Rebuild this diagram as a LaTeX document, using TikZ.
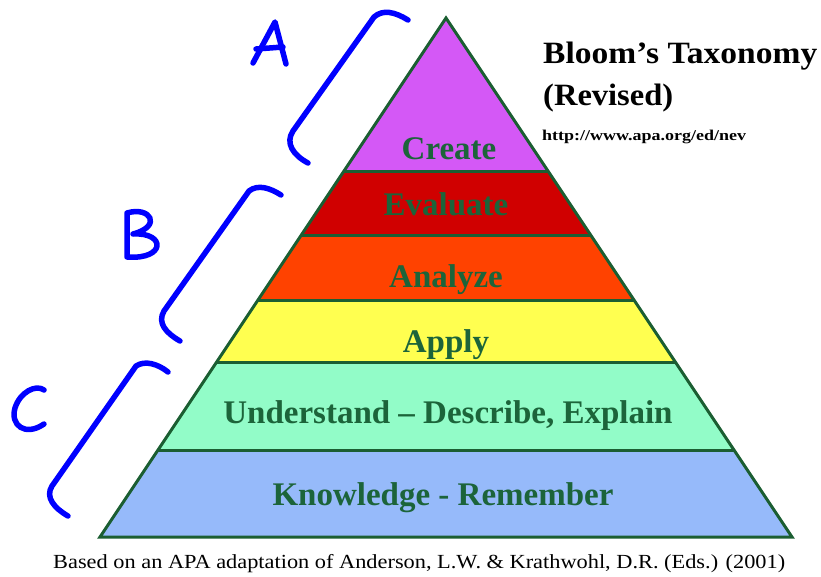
\documentclass[tikz,border=0pt]{standalone}
\usepackage{fontspec}
\usepackage{graphicx}
\setmainfont{Liberation Serif}
\usetikzlibrary{calc}
\definecolor{edgegreen}{RGB}{27,94,50}
\definecolor{txtgreen}{RGB}{28,100,58}
\definecolor{cCreate}{RGB}{212,88,246}
\definecolor{cEval}{RGB}{208,0,0}
\definecolor{cAnal}{RGB}{255,66,0}
\definecolor{cApply}{RGB}{255,255,80}
\definecolor{cUnder}{RGB}{146,252,200}
\definecolor{cKnow}{RGB}{150,186,250}
\definecolor{penblue}{RGB}{0,0,255}
\tikzset{
  edge/.style={draw=edgegreen, line width=3pt, line join=miter},
  lbl/.style={anchor=base, inner sep=0pt, text=txtgreen, font=\bfseries\fontsize{33}{33}\selectfont},
  pen/.style={draw=penblue, line width=5.5pt, line cap=round, line join=round},
}
\begin{document}
\begin{tikzpicture}[x=1pt,y=-1pt]
\useasboundingbox (0,0) rectangle (821,576);
\fill[white] (0,0) rectangle (821,576);
% pyramid geometry
\coordinate (apex) at (446,18);
\coordinate (bl) at (100,537);
\coordinate (br) at (792,537);
\coordinate (L1) at ($(apex)!0.2948!(bl)$);
\coordinate (R1) at ($(apex)!0.2948!(br)$);
\coordinate (L2) at ($(apex)!0.4181!(bl)$);
\coordinate (R2) at ($(apex)!0.4181!(br)$);
\coordinate (L3) at ($(apex)!0.5434!(bl)$);
\coordinate (R3) at ($(apex)!0.5434!(br)$);
\coordinate (L4) at ($(apex)!0.6647!(bl)$);
\coordinate (R4) at ($(apex)!0.6647!(br)$);
\coordinate (L5) at ($(apex)!0.8324!(bl)$);
\coordinate (R5) at ($(apex)!0.8324!(br)$);
% layers
\fill[cCreate] (apex) -- (R1) -- (L1) -- cycle;
\fill[cEval] (L1) -- (R1) -- (R2) -- (L2) -- cycle;
\fill[cAnal] (L2) -- (R2) -- (R3) -- (L3) -- cycle;
\fill[cApply] (L3) -- (R3) -- (R4) -- (L4) -- cycle;
\fill[cUnder] (L4) -- (R4) -- (R5) -- (L5) -- cycle;
\fill[cKnow] (L5) -- (R5) -- (br) -- (bl) -- cycle;
\draw[edge] (L1) -- (R1);
\draw[edge] (L2) -- (R2);
\draw[edge] (L3) -- (R3);
\draw[edge] (L4) -- (R4);
\draw[edge] (L5) -- (R5);
\draw[edge] (apex) -- (br) -- (bl) -- cycle;
% labels
\node[lbl] (create) at (449,159) {Create};
\node[lbl] (evaluate) at (446,215) {Evaluate};
\node[lbl] (analyze) at (446,287) {Analyze};
\node[lbl] (apply) at (446,352) {Apply};
\node[lbl] (understand) at (448,423) {Understand – Describe, Explain};
\node[lbl] (knowledge) at (443,505) {Knowledge - Remember};
% title
\node[anchor=base west, inner sep=0pt, font=\bfseries\fontsize{31}{31}\selectfont] (title1) at (543,63) {\resizebox{274pt}{\height}{Bloom’s Taxonomy}};
\node[anchor=base west, inner sep=0pt, font=\bfseries\fontsize{31}{31}\selectfont] (title2) at (543,105) {\resizebox{130pt}{\height}{(Revised)}};
\node[anchor=base west, inner sep=0pt, font=\bfseries\fontsize{15}{15}\selectfont] (url) at (542,140) {\resizebox{204pt}{\height}{http://www.apa.org/ed/nev}};
\node[anchor=base west, inner sep=0pt, font=\fontsize{20}{20}\selectfont] (footer) at (53,568) {\resizebox{732pt}{\height}{Based on an APA adaptation of Anderson, L.W. \& Krathwohl, D.R. (Eds.) (2001)}};
% hand-drawn brackets
\draw[pen] (408,20) .. controls (395,12) and (383,9) .. (374,17) -- (293,131) .. controls (285,143) and (293,155) .. (308,163);
\draw[pen] (281,195) .. controls (270,188) and (258,184) .. (249,191) -- (164,311) .. controls (157,323) and (166,333) .. (180,341);
\draw[pen] (168,372) .. controls (158,364) and (145,360) .. (136,366) -- (52,486) .. controls (45,497) and (54,508) .. (68,516);
% hand-drawn letters
\draw[pen] (253,63) -- (275,22) -- (286,64);
\draw[pen] (256,49) -- (283,47);
\draw[pen] (127,257) -- (127,213) .. controls (150,206) and (163,226) .. (133,234) .. controls (166,232) and (166,260) .. (127,257);
\draw[pen] (44,390) .. controls (36,384) and (20,392) .. (15,408) .. controls (10,425) and (25,437) .. (44,424);
\end{tikzpicture}
\end{document}
